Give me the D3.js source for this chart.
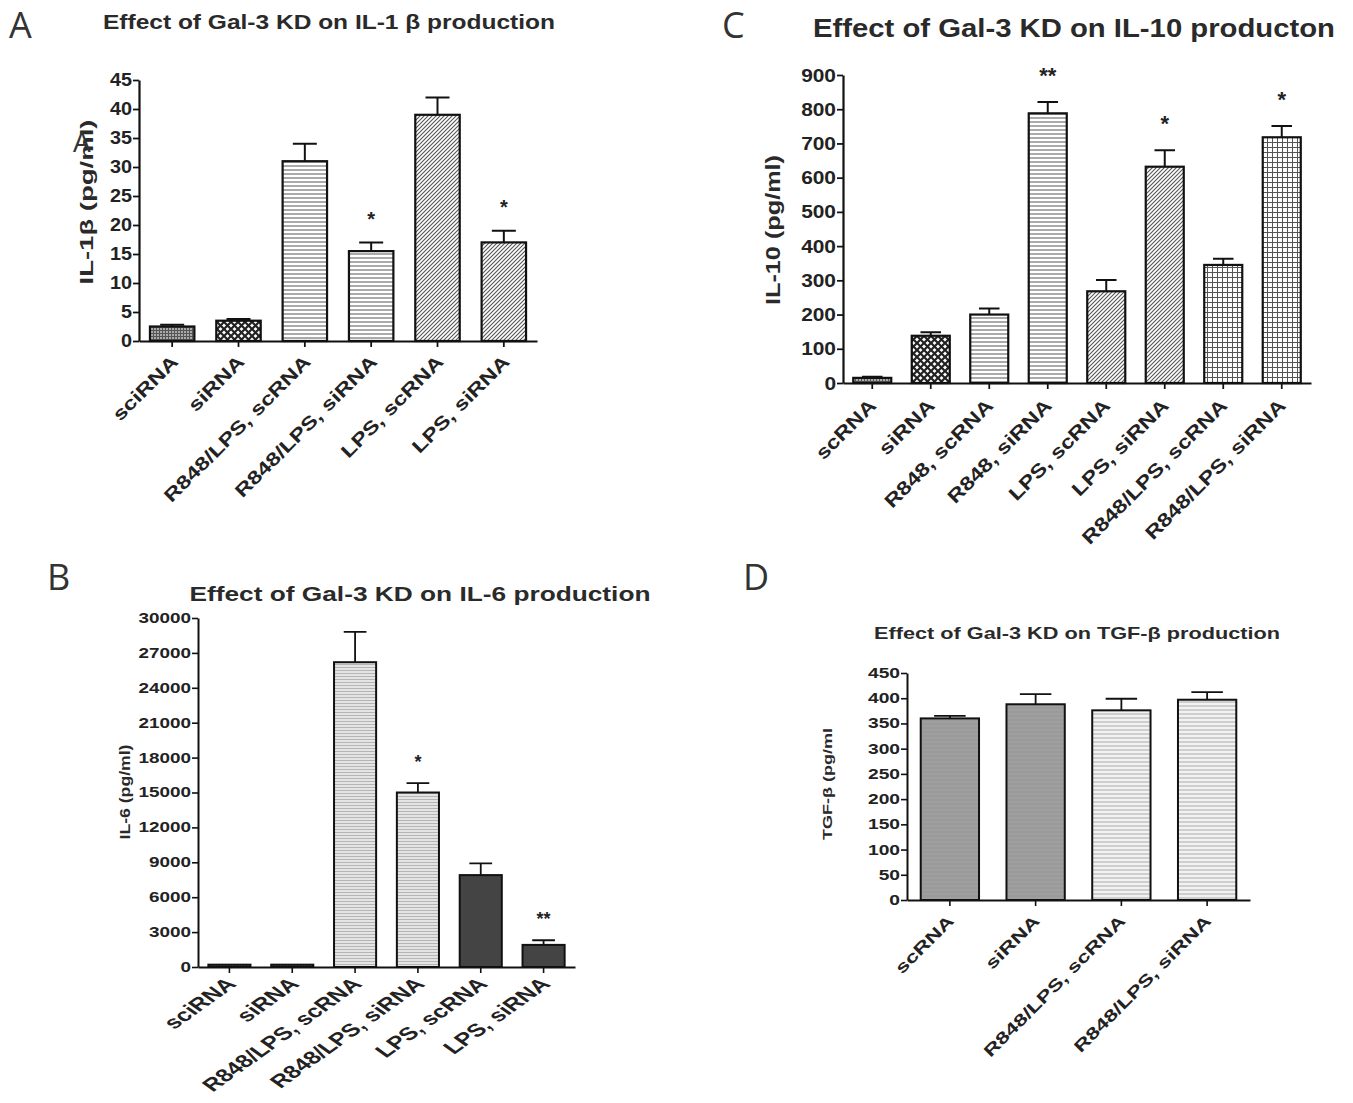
<!DOCTYPE html>
<html>
<head>
<meta charset="utf-8">
<script src="https://cdn.jsdelivr.net/npm/d3@7"></script>
<style>
  body { margin: 0; background: #fff; }
  svg { display: block; }
  .tick text { fill: #222; font-family: "Liberation Sans", Arial, sans-serif; font-weight: bold; }
  .title { fill: #2a2a2a; font-family: "Liberation Sans", Arial, sans-serif; font-weight: bold; }
  .letter { fill: #333; font-family: "Open Sans", "Noto Sans", sans-serif; }
</style>
</head>
<body>
<svg id="fig" width="1353" height="1103"></svg>
<script>
// --- Data ---
// A: IL-1b
const catsA = ['sciRNA', 'siRNA', 'R848/LPS, scRNA', 'R848/LPS, siRNA', 'LPS, scRNA', 'LPS, siRNA'];
const meanA = [2.5, 3.5, 31, 15.5, 39, 17];
const errA  = [0.3, 0.3, 3, 1.5, 3, 2];
const starA = ['', '', '', '*', '', '*'];
const ticksA = d3.range(0, 46, 5);

// C: IL-10
const catsC = ['scRNA', 'siRNA', 'R848, scRNA', 'R848, siRNA', 'LPS, scRNA', 'LPS, siRNA', 'R848/LPS, scRNA', 'R848/LPS, siRNA'];
const meanC = [15, 138, 200, 788, 268, 632, 345, 718];
const errC  = [3, 10, 18, 33, 33, 48, 18, 33];
const starC = ['', '', '', '**', '', '*', '', '*'];
const ticksC = d3.range(0, 901, 100);

// B: IL-6
const catsB = ['sciRNA', 'siRNA', 'R848/LPS, scRNA', 'R848/LPS, siRNA', 'LPS, scRNA', 'LPS, siRNA'];
const meanB = [200, 200, 26200, 15000, 7900, 1900];
const errB  = [0, 0, 2600, 800, 1000, 400];
const starB = ['', '', '', '*', '', '**'];
const ticksB = d3.range(0, 30001, 3000);

// D: TGF-b
const catsD = ['scRNA', 'siRNA', 'R848/LPS, scRNA', 'R848/LPS, siRNA'];
const meanD = [360, 388, 376, 397];
const errD  = [5, 20, 23, 15];
const starD = ['', '', '', ''];
const ticksD = d3.range(0, 451, 50);

// --- bar fill styles (pattern ids) ---
const fillA = ['mesh', 'checker', 'hlines', 'hlines', 'diag', 'diag'];
const fillC = ['mesh', 'checker', 'hlines', 'hlines', 'diag', 'diag', 'grid', 'grid'];
const fillB = ['darkmesh', 'darkmesh', 'lightH', 'lightH', 'dark', 'dark'];
const fillD = ['gray', 'gray', 'paleH', 'paleH'];

const svg = d3.select('#fig');
const defs = svg.append('defs');

function pat(id, w, h, bg, draw) {
    const p = defs.append('pattern').attr('id', id)
        .attr('patternUnits', 'userSpaceOnUse').attr('width', w).attr('height', h);
    p.append('rect').attr('width', w).attr('height', h).attr('fill', bg);
    draw(p);
}
pat('mesh', 3, 3, '#aaa', p => {
    p.append('path').attr('d', 'M0,0.5H3M0.5,0V3').attr('stroke', '#555').attr('stroke-width', 1);
});
pat('darkmesh', 3, 3, '#666', p => {
    p.append('path').attr('d', 'M0,0.5H3M0.5,0V3').attr('stroke', '#222').attr('stroke-width', 1);
});
pat('checker', 7, 7, '#fff', p => {
    p.append('path').attr('d', 'M0,0L7,7M7,0L0,7').attr('stroke', '#222').attr('stroke-width', 2.2);
});
pat('hlines', 4, 4, '#fff', p => {
    p.append('path').attr('d', 'M0,2H4').attr('stroke', '#555').attr('stroke-width', 1);
});
pat('diag', 4, 4, '#fff', p => {
    p.append('path').attr('d', 'M-1,5L5,-1M-1,1L1,-1M3,5L5,3').attr('stroke', '#555').attr('stroke-width', 1.1);
});
pat('grid', 5, 5, '#fff', p => {
    p.append('path').attr('d', 'M0,2.5H5M2.5,0V5').attr('stroke', '#555').attr('stroke-width', 1);
});
pat('lightH', 3, 3, '#e4e4e4', p => {
    p.append('path').attr('d', 'M0,1.5H3').attr('stroke', '#aaa').attr('stroke-width', 0.8);
});
pat('dark', 4, 4, '#444', p => {});
pat('gray', 4, 4, '#9a9a9a', p => {
    p.append('path').attr('d', 'M0,2H4').attr('stroke', '#a4a4a4').attr('stroke-width', 1);
});
pat('paleH', 4, 4, '#f2f2f2', p => {
    p.append('path').attr('d', 'M0,2H4').attr('stroke', '#aaa').attr('stroke-width', 1);
});

function panel(o) {
    const x = d3.scaleBand().domain(o.cats).range(o.xr).paddingInner(o.pad).paddingOuter(o.pad / 2);
    const y = d3.scaleLinear().domain([0, o.ticks[o.ticks.length - 1]]).range(o.yr);
    const g = svg.append('g');

    // bars
    g.selectAll('rect.bar').data(o.cats).join('rect')
        .attr('x', d => x(d))
        .attr('width', x.bandwidth())
        .attr('y', (d, i) => y(o.mean[i]))
        .attr('height', (d, i) => y(0) - y(o.mean[i]))
        .attr('fill', (d, i) => `url(#${o.fill[i]})`)
        .attr('stroke', '#111')
        .attr('stroke-width', o.sw);

    // error bars (upper only)
    const cap = x.bandwidth() * 0.27;
    o.cats.forEach((c, i) => {
        if (!o.err[i]) return;
        const cx = x(c) + x.bandwidth() / 2;
        g.append('path')
            .attr('d', `M${cx},${y(o.mean[i])}V${y(o.mean[i] + o.err[i])}M${cx - cap},${y(o.mean[i] + o.err[i])}H${cx + cap}`)
            .attr('stroke', '#111').attr('stroke-width', o.sw * 0.9).attr('fill', 'none');
    });

    // significance stars
    g.selectAll('text.star').data(o.cats).join('text')
        .attr('x', d => x(d) + x.bandwidth() / 2)
        .attr('y', (d, i) => y(o.mean[i] + o.err[i]) - o.starGap)
        .attr('text-anchor', 'middle')
        .attr('dominant-baseline', 'middle')
        .attr('font-family', 'Liberation Sans, Arial, sans-serif')
        .attr('font-weight', 'bold')
        .attr('font-size', o.starSize)
        .attr('fill', '#222')
        .text((d, i) => o.star[i]);

    // y axis
    const ya = g.append('g').attr('transform', `translate(${o.xr[0]},0)`)
        .call(d3.axisLeft(y).tickValues(o.ticks).tickFormat(d3.format('d'))
            .tickSize(6).tickSizeOuter(0).tickPadding(1));
    ya.select('.domain').attr('stroke', '#111').attr('stroke-width', o.sw);
    ya.selectAll('.tick line').attr('stroke', '#111').attr('stroke-width', o.sw * 0.8);
    ya.selectAll('.tick text')
        .attr('font-size', o.tickSize)
        .attr('x', -7 / o.tickSx)
        .attr('transform', `scale(${o.tickSx},1)`);

    // x axis
    const xa = g.append('g').attr('transform', `translate(0,${o.yr[0]})`)
        .call(d3.axisBottom(x).tickSize(6).tickSizeOuter(0));
    xa.select('.domain').attr('stroke', '#111').attr('stroke-width', o.sw);
    xa.selectAll('.tick line').attr('stroke', '#111').attr('stroke-width', o.sw * 0.8);
    xa.selectAll('.tick text')
        .attr('font-size', o.labSize)
        .attr('text-anchor', 'end')
        .attr('x', 0).attr('y', 0).attr('dy', 0)
        .attr('transform', `translate(${o.labDx},${o.labDy}) scale(${o.labGsx},1) rotate(-45) scale(${o.labLsx},1)`);

    // y label
    g.append('text').attr('class', 'title')
        .attr('transform', `translate(${o.ylab[0]},${o.ylab[1]}) rotate(-90)`)
        .attr('text-anchor', 'middle')
        .attr('font-size', o.ylabSize)
        .attr('textLength', o.ylabLen)
        .attr('lengthAdjust', 'spacingAndGlyphs')
        .text(o.ylabel);

    // title
    g.append('text').attr('class', 'title')
        .attr('x', o.titlePos[0]).attr('y', o.titlePos[1])
        .attr('text-anchor', 'middle')
        .attr('font-size', o.titleSize)
        .attr('textLength', o.titleLen)
        .attr('lengthAdjust', 'spacingAndGlyphs')
        .text(o.title);

    // panel letter
    g.append('text').attr('class', 'letter')
        .attr('x', o.letterPos[0]).attr('y', o.letterPos[1])
        .attr('font-size', 36)
        .text(o.letter);
}

panel({
    cats: catsA, mean: meanA, err: errA, star: starA, ticks: ticksA, fill: fillA,
    xr: [139, 537], yr: [341, 80], pad: 0.33, sw: 2.2,
    tickSize: 18, tickSx: 1.1,
    labSize: 18.5, labDx: 7, labDy: 22, labGsx: 1, labLsx: 1.27,
    starGap: 22, starSize: 20,
    ylabel: 'IL-1β (pg/ml)', ylab: [93, 202], ylabSize: 19, ylabLen: 165,
    title: 'Effect of Gal-3 KD on IL-1 β production', titlePos: [329, 29], titleSize: 20, titleLen: 452,
    letter: 'A', letterPos: [9, 38]
});

// stray glyph overlapping the IL-1b axis label in the source figure
svg.append('text').attr('class', 'letter').attr('x', 73).attr('y', 152)
    .attr('font-size', 28).text('A');

panel({
    cats: catsC, mean: meanC, err: errC, star: starC, ticks: ticksC, fill: fillC,
    xr: [843, 1311], yr: [383, 75], pad: 0.35, sw: 2.2,
    tickSize: 19, tickSx: 1.1,
    labSize: 19, labDx: 5, labDy: 24, labGsx: 1, labLsx: 1.22,
    starGap: 25, starSize: 22,
    ylabel: 'IL-10 (pg/ml)', ylab: [780, 230], ylabSize: 21, ylabLen: 150,
    title: 'Effect of Gal-3 KD on IL-10 producton', titlePos: [1074, 37], titleSize: 26, titleLen: 522,
    letter: 'C', letterPos: [722, 38]
});

panel({
    cats: catsB, mean: meanB, err: errB, star: starB, ticks: ticksB, fill: fillB,
    xr: [198, 575], yr: [967, 618], pad: 0.33, sw: 2,
    tickSize: 14, tickSx: 1.35,
    labSize: 18, labDx: 8, labDy: 18, labGsx: 1.4, labLsx: 1,
    starGap: 20, starSize: 18,
    ylabel: 'IL-6 (pg/ml)', ylab: [130, 792], ylabSize: 15, ylabLen: 95,
    title: 'Effect of Gal-3 KD on IL-6 production', titlePos: [420, 601], titleSize: 20, titleLen: 461,
    letter: 'B', letterPos: [47, 590]
});

panel({
    cats: catsD, mean: meanD, err: errD, star: starD, ticks: ticksD, fill: fillD,
    xr: [907, 1250], yr: [900, 673], pad: 0.32, sw: 2,
    tickSize: 14, tickSx: 1.37,
    labSize: 16.5, labDx: 5, labDy: 22, labGsx: 1, labLsx: 1.38,
    starGap: 20, starSize: 18,
    ylabel: 'TGF-β (pg/ml', ylab: [832, 784], ylabSize: 13, ylabLen: 112,
    title: 'Effect of Gal-3 KD on TGF-β production', titlePos: [1077, 639], titleSize: 17, titleLen: 406,
    letter: 'D', letterPos: [743, 590]
});
</script>
</body>
</html>
